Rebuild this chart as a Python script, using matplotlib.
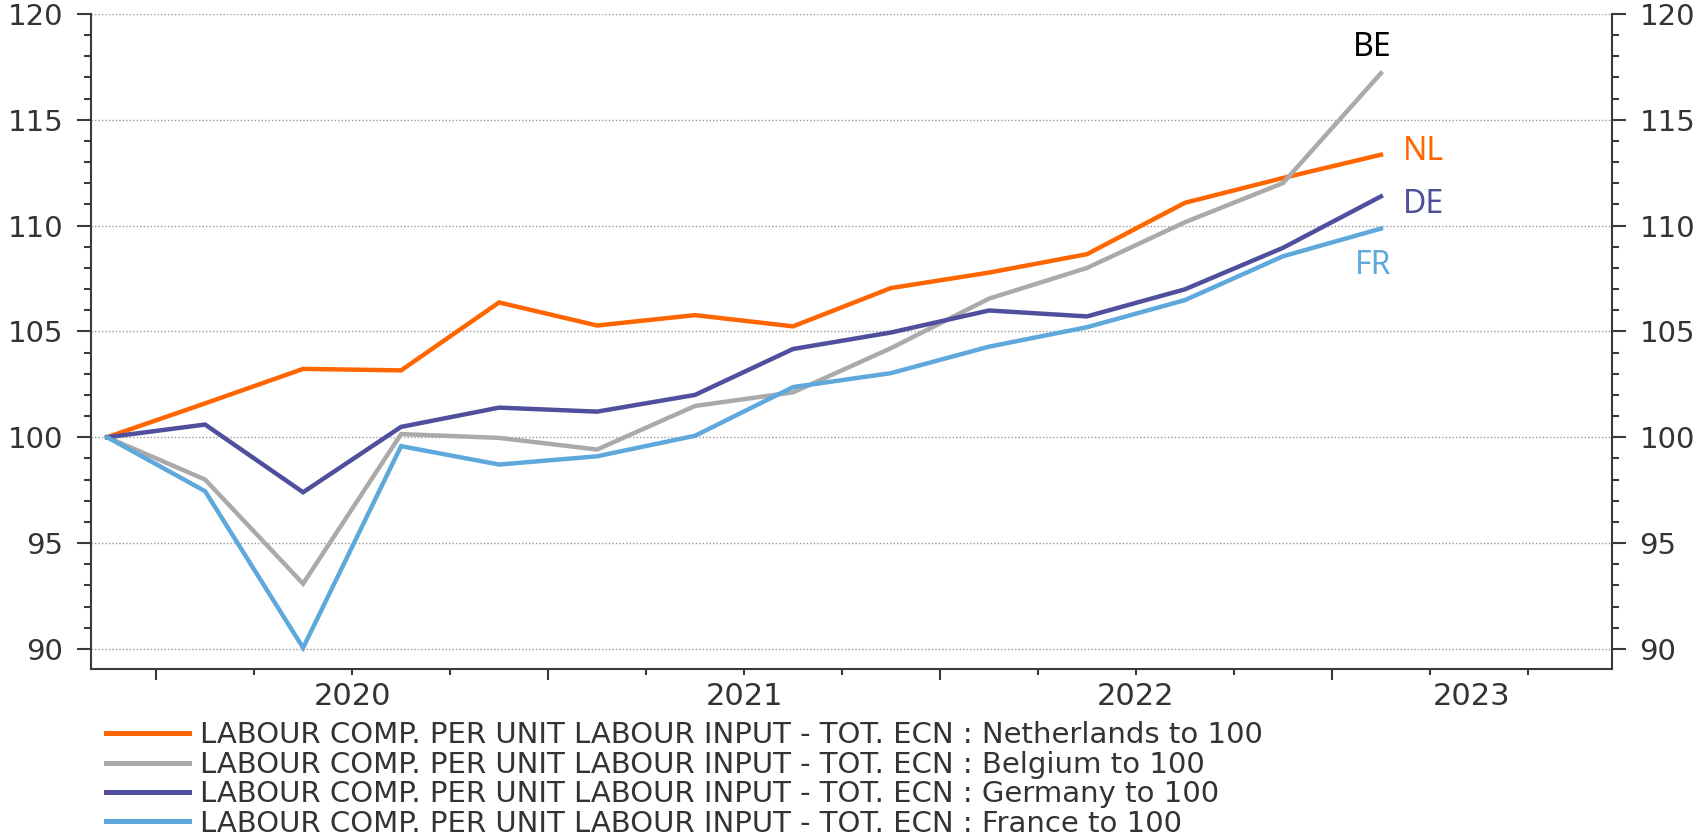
import numpy as np
import matplotlib
matplotlib.use('Agg')
import matplotlib.pyplot as plt
from matplotlib.ticker import MultipleLocator, FixedLocator, NullFormatter
import matplotlib.transforms as mtransforms

# quarterly index, 2019Q4 = 100
quarters = ['2019Q4', '2020Q1', '2020Q2', '2020Q3', '2020Q4',
            '2021Q1', '2021Q2', '2021Q3', '2021Q4',
            '2022Q1', '2022Q2', '2022Q3', '2022Q4', '2023Q1']
nl = [100, 101.6, 103.23, 103.16, 106.37, 105.28, 105.77, 105.24, 107.05, 107.78, 108.65, 111.08, 112.25, 113.35]
be = [100, 98.0, 93.08, 100.15, 99.97, 99.42, 101.48, 102.12, 104.21, 106.55, 108.0, 110.16, 112.01, 117.2]
de = [100, 100.6, 97.4, 100.49, 101.4, 101.21, 102.0, 104.17, 104.95, 105.99, 105.71, 106.99, 108.95, 111.38]
fr = [100, 97.45, 90.05, 99.58, 98.71, 99.1, 100.07, 102.37, 103.03, 104.28, 105.2, 106.48, 108.55, 109.86]

names = ['Netherlands', 'Belgium', 'Germany', 'France']
codes = ['NL', 'BE', 'DE', 'FR']
years = [2020, 2021, 2022, 2023]


def quarter_mid(q):
    # plot each quarter in the middle of its span
    return int(q[:4]) + (int(q[-1]) - 1) / 4 + 1 / 8


x = np.array([quarter_mid(q) for q in quarters])
series = [nl, be, de, fr]
colors = ['#ff6600', '#aaaaaa', '#4f4f9d', '#5fa8dc']
label_colors = ['#ff6600', '#000000', '#4f4f9d', '#5fa8dc']
label_offsets = [(42, 3), (-9, 26), (42, -8), (-8, -37)]

fig = plt.figure(figsize=(17.02, 8.38), dpi=100)
ax = fig.add_axes([0.0535, 0.2017, 0.8935, 0.7816])

xmin, xmax = 2019.834, 2023.714
ax.set_xlim(xmin, xmax)
ax.set_ylim(89.05, 120)

for i, (vals, col) in enumerate(zip(series, colors)):
    legend_txt = 'LABOUR COMP. PER UNIT LABOUR INPUT - TOT. ECN : ' + names[i] + ' to 100'
    ax.plot(x, vals, color=col, lw=3.2, label=legend_txt, solid_joinstyle='miter')

for i, vals in enumerate(series):
    ax.annotate(codes[i], xy=(x[-1], vals[-1]), xytext=label_offsets[i],
                textcoords='offset pixels', ha='center', va='center',
                color=label_colors[i], fontsize=23, family=['Noto Sans', 'DejaVu Sans'])

# axes styling
spine_col = '#3a3a3a'
for s in ['left', 'right', 'bottom']:
    ax.spines[s].set_color(spine_col)
    ax.spines[s].set_linewidth(1.5)
ax.spines['top'].set_visible(False)

ax.yaxis.set_major_locator(MultipleLocator(5))
ax.yaxis.set_minor_locator(MultipleLocator(1))
ax.tick_params(axis='y', which='major', direction='out', length=10, width=1.5,
               color=spine_col, labelsize=21, labelcolor='#333333',
               left=True, right=True, labelleft=True, labelright=True, pad=10)
ax.tick_params(axis='y', which='minor', direction='out', length=5, width=1.5,
               color=spine_col, left=True, right=True)

ax.xaxis.set_major_locator(FixedLocator(years))
ax.xaxis.set_minor_locator(MultipleLocator(0.25))
ax.xaxis.set_major_formatter(NullFormatter())
ax.tick_params(axis='x', which='major', direction='out', length=8, width=1.5, color=spine_col)
ax.tick_params(axis='x', which='minor', direction='out', length=4, width=1.5, color=spine_col)

for lab in ax.get_yticklabels():
    lab.set_family('DejaVu Sans')

ax.grid(axis='y', which='major', linestyle=(0, (1, 1.5)), color='#9a9a9a', lw=1.0)
ax.set_axisbelow(True)

# year labels centred in the visible part of each year
trans = mtransforms.blended_transform_factory(ax.transData, ax.transAxes)
for yr in years:
    left = max(yr, xmin)
    right = min(yr + 1, xmax)
    ax.text((left + right) / 2, -0.02, str(yr), transform=trans, ha='center', va='top',
            fontsize=22, color='#333333', family='DejaVu Sans')

leg = ax.legend(loc='upper left', bbox_to_anchor=(0.0623, 0.1392), bbox_transform=fig.transFigure,
                frameon=False, fontsize=21, handlelength=2.85, handletextpad=0.38,
                labelspacing=0.048, borderpad=0, borderaxespad=0)
for t in leg.get_texts():
    t.set_color('#333333')
    t.set_family('DejaVu Sans')
for h in leg.get_lines():
    h.set_linewidth(3.6)

fig.savefig('out.png', dpi=100)
